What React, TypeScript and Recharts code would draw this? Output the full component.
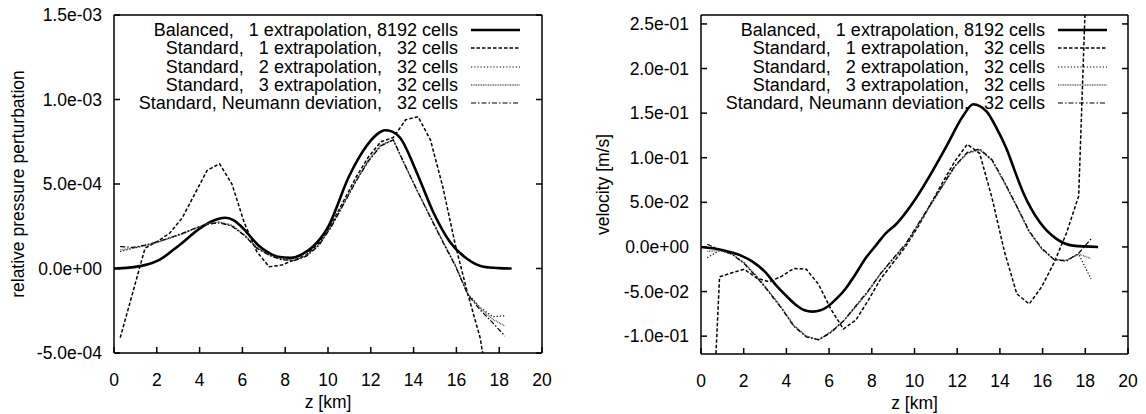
import { LineChart, Line, XAxis, YAxis } from 'recharts';

// cell centres of the 32-cell runs [km]
const Z32 = [0.29, 0.87, 1.45, 2.03, 2.61, 3.19, 3.77, 4.35, 4.93, 5.51, 6.09, 6.67, 7.25, 7.83, 8.41, 8.99,
  9.57, 10.15, 10.73, 11.31, 11.89, 12.47, 13.05, 13.63, 14.21, 14.79, 15.37, 15.95, 16.53, 17.11, 17.69, 18.27];

// pressure perturbation, values in units of 1e-4
const P_BAL_Z = [0, 0.7, 1.43, 2.1, 3.05, 4.0, 4.5, 4.9, 5.2, 5.6, 5.97, 6.74, 7.2, 7.66, 8.28, 8.8, 9.3, 10.0,
  11.0, 11.8, 12.3, 12.66, 13.0, 13.36, 14.14, 14.92, 15.7, 16.48, 17.27, 18.0, 18.58];
const P_BAL = [0, 0.05, 0.2, 0.5, 1.38, 2.36, 2.75, 2.95, 3.0, 2.85, 2.46, 1.38, 0.95, 0.69, 0.63, 0.85, 1.3, 2.45,
  5.5, 7.25, 7.95, 8.18, 8.1, 7.75, 5.7, 3.33, 1.57, 0.59, 0.1, 0.02, 0];
const P_STD1 = [-4.1, -1.45, 1.2, 1.6, 2.1, 3.0, 4.4, 5.8, 6.2, 5.0, 2.7, 1.0, 0.1, 0.2, 0.5, 0.8, 1.5, 2.6,
  4.0, 5.4, 6.6, 7.5, 7.75, 8.8, 8.98, 7.6, 4.8, 1.4, -1.5, -4.1, -8.6, -12];
const P_STD2 = [1.0, 1.2, 1.35, 1.55, 1.8, 2.05, 2.35, 2.65, 2.75, 2.55, 2.0, 1.25, 0.8, 0.55, 0.48, 0.75, 1.4, 2.5,
  3.85, 5.2, 6.4, 7.3, 7.6, 6.0, 4.5, 3.05, 1.6, 0.2, -1.5, -2.3, -2.85, -2.8];
const P_STD3 = [1.1, 1.2, 1.35, 1.55, 1.8, 2.05, 2.35, 2.65, 2.75, 2.55, 2.0, 1.25, 0.8, 0.55, 0.48, 0.75, 1.4, 2.5,
  3.85, 5.2, 6.4, 7.3, 7.6, 6.0, 4.5, 3.05, 1.6, 0.2, -1.5, -2.35, -3.0, -3.4];
const P_NEU = [1.3, 1.25, 1.38, 1.58, 1.82, 2.08, 2.38, 2.62, 2.7, 2.5, 1.95, 1.2, 0.78, 0.52, 0.46, 0.72, 1.36, 2.45,
  3.8, 5.15, 6.35, 7.25, 7.62, 6.05, 4.5, 3.0, 1.55, 0.15, -1.55, -2.45, -3.2, -4.0];

// velocity [m/s]
const V_BAL_Z = [0, 0.7, 1.35, 1.9, 2.43, 3.0, 3.52, 4.0, 4.45, 4.85, 5.22, 5.6, 5.92, 6.35, 6.78, 7.25, 7.7, 8.2,
  8.64, 9.16, 9.94, 10.72, 11.5, 12.28, 12.75, 13.37, 13.85, 14.31, 14.7, 15.09, 15.87, 16.65, 17.43, 18.6];
const V_BAL = [0, -0.002, -0.0056, -0.01, -0.0167, -0.028, -0.043, -0.055, -0.065, -0.071, -0.0725, -0.071, -0.067,
  -0.058, -0.0465, -0.03, -0.013, 0.002, 0.015, 0.026, 0.05, 0.08, 0.113, 0.147, 0.16, 0.152, 0.133, 0.11, 0.085,
  0.061, 0.0276, 0.009, 0.0015, 0];
const V_STD1 = [-0.329, -0.0335, -0.029, -0.025, -0.035, -0.039, -0.033, -0.024, -0.025, -0.042, -0.07, -0.092,
  -0.082, -0.06, -0.036, -0.018, 0.0, 0.022, 0.047, 0.072, 0.096, 0.115, 0.105, 0.055, -0.005, -0.0525, -0.064,
  -0.045, -0.018, 0.015, 0.057, 0.46];
const V_STD2 = [-0.012, -0.004, -0.008, -0.018, -0.033, -0.05, -0.068, -0.088, -0.1, -0.104, -0.095, -0.083, -0.067,
  -0.05, -0.03, -0.014, 0.002, 0.024, 0.046, 0.068, 0.09, 0.105, 0.109, 0.097, 0.072, 0.045, 0.017, -0.002, -0.014,
  -0.015, -0.008, -0.036];
const V_STD3 = [-0.005, -0.004, -0.008, -0.018, -0.033, -0.05, -0.068, -0.088, -0.1, -0.104, -0.095, -0.083, -0.067,
  -0.05, -0.03, -0.014, 0.002, 0.024, 0.046, 0.068, 0.09, 0.105, 0.109, 0.097, 0.072, 0.045, 0.017, -0.002, -0.014,
  -0.015, -0.008, -0.013];
const V_NEU = [0.003, -0.003, -0.008, -0.019, -0.034, -0.051, -0.069, -0.089, -0.101, -0.104, -0.096, -0.083, -0.066,
  -0.049, -0.03, -0.013, 0.003, 0.025, 0.047, 0.069, 0.091, 0.106, 0.11, 0.098, 0.073, 0.046, 0.018, -0.001, -0.014,
  -0.016, -0.007, 0.009];

const X_TICKS = [0, 2, 4, 6, 8, 10, 12, 14, 16, 18, 20];
const P_TICKS = [-5e-4, 0, 5e-4, 1e-3, 1.5e-3];
const V_TICKS = [-0.1, -0.05, 0, 0.05, 0.1, 0.15, 0.2, 0.25];

const NAMES = [
  'Balanced,   1 extrapolation, 8192 cells',
  'Standard,   1 extrapolation,   32 cells',
  'Standard,   2 extrapolation,   32 cells',
  'Standard,   3 extrapolation,   32 cells',
  'Standard, Neumann deviation,   32 cells',
];

const STYLES = [
  { stroke: '#000', width: 2.6, dash: undefined as string | undefined },
  { stroke: '#000', width: 1.5, dash: '3.5 2' },
  { stroke: '#000', width: 1.2, dash: '1.2 2' },
  { stroke: '#666', width: 1.4, dash: '1 0.7' },
  { stroke: '#000', width: 1.2, dash: '5 2 1.5 2' },
];

const FS = 17.5;
const TICK = 6;
const TOP = 15;
const FRAME = { stroke: '#000', strokeWidth: 1.5 };

const sci = (v: number) => {
  if (v === 0) return '0.0e+00';
  const [m, e] = v.toExponential(1).split('e');
  const n = Number(e);
  return `${m}e${n < 0 ? '-' : '+'}${String(Math.abs(n)).padStart(2, '0')}`;
};

const rows = (zs: number[], vs: number[], k = 1) => zs.map((z, i) => ({ z, v: vs[i] * k }));

interface PanelProps {
  series: { z: number; v: number }[][];
  yDomain: [number, number];
  yTicks: number[];
  yLabel: string;
  plotLeft: number;
  plotRight: number;
  plotBottom: number;
  yLabelX: number;
  legendRight: number;
}

function Panel({ series, yDomain, yTicks, yLabel, plotLeft, plotRight, plotBottom, yLabelX, legendRight }: PanelProps) {
  const midY = (TOP + plotBottom) / 2;
  const midX = (plotLeft + plotRight) / 2;
  // gnuplot-style ticks pointing into the plot; positions come from the axis scale (payload.coordinate)
  const bottomTick = (p: any) => {
    const c = p.payload.coordinate;
    return (
      <g>
        <line x1={c} y1={plotBottom} x2={c} y2={plotBottom - TICK} {...FRAME} />
        <text x={c} y={plotBottom + 21} dy="0.71em" textAnchor="middle" fontSize={FS} fill="#000">
          {p.payload.value}
        </text>
      </g>
    );
  };
  const topTick = (p: any) => {
    const c = p.payload.coordinate;
    return <line x1={c} y1={TOP} x2={c} y2={TOP + TICK} {...FRAME} />;
  };
  const leftTick = (p: any) => {
    const c = p.payload.coordinate;
    return (
      <g>
        <line x1={plotLeft} y1={c} x2={plotLeft + TICK} y2={c} {...FRAME} />
        <text x={plotLeft - 12} y={c} dy="0.35em" textAnchor="end" fontSize={FS} fill="#000">
          {sci(p.payload.value)}
        </text>
      </g>
    );
  };
  const rightTick = (p: any) => {
    const c = p.payload.coordinate;
    return <line x1={plotRight} y1={c} x2={plotRight - TICK} y2={c} {...FRAME} />;
  };
  const xTitle = () => (
    <text x={midX} y={plotBottom + 49} dy="0.35em" textAnchor="middle" fontSize={FS} fill="#000">z [km]</text>
  );
  const yTitle = () => (
    <text x={yLabelX} y={midY} dy="0.35em" textAnchor="middle" fontSize={FS} fill="#000"
      transform={`rotate(-90, ${yLabelX}, ${midY})`}>{yLabel}</text>
  );

  return (
    <div style={{ position: 'relative', width: 573, height: 414 }}>
      <LineChart width={573} height={414}
        margin={{ top: TOP - 1, right: 573 - plotRight - 1, bottom: 414 - plotBottom - 40, left: 0 }}>
        <XAxis
          dataKey="z" type="number" domain={[0, 20]} ticks={X_TICKS} height={40}
          axisLine={FRAME} tickLine={false} tick={bottomTick} label={xTitle}
        />
        <XAxis xAxisId="top" orientation="top" type="number" domain={[0, 20]} ticks={X_TICKS} height={1}
          axisLine={FRAME} tickLine={false} tick={topTick} />
        <YAxis
          type="number" domain={yDomain} ticks={yTicks} allowDataOverflow width={plotLeft}
          axisLine={FRAME} tickLine={false} tick={leftTick} label={yTitle}
        />
        <YAxis yAxisId="r" orientation="right" type="number" domain={yDomain} ticks={yTicks} allowDataOverflow
          width={1} axisLine={FRAME} tickLine={false} tick={rightTick} />
        {series.map((d, i) => (
          <Line
            key={i} data={d} dataKey="v" type={i === 0 ? 'monotone' : 'linear'}
            stroke={STYLES[i].stroke} strokeWidth={STYLES[i].width} strokeDasharray={STYLES[i].dash}
            dot={false} isAnimationActive={false}
          />
        ))}
      </LineChart>
      <div style={{ position: 'absolute', top: 21, right: legendRight, fontSize: 18 }}>
        {NAMES.map((n, i) => (
          <div key={n} style={{ display: 'flex', alignItems: 'center', justifyContent: 'flex-end', height: 18.33 }}>
            <span style={{ whiteSpace: 'pre', lineHeight: '18.33px' }}>{n}</span>
            <svg width={49} height={8} style={{ marginLeft: 13 }}>
              <line x1={0} y1={4} x2={49} y2={4} stroke={STYLES[i].stroke} strokeWidth={STYLES[i].width}
                strokeDasharray={STYLES[i].dash} />
            </svg>
          </div>
        ))}
      </div>
    </div>
  );
}

export default function App() {
  const pressure = [
    rows(P_BAL_Z, P_BAL, 1e-4), rows(Z32, P_STD1, 1e-4), rows(Z32, P_STD2, 1e-4),
    rows(Z32, P_STD3, 1e-4), rows(Z32, P_NEU, 1e-4),
  ];
  const velocity = [
    rows(V_BAL_Z, V_BAL), rows(Z32, V_STD1), rows(Z32, V_STD2), rows(Z32, V_STD3), rows(Z32, V_NEU),
  ];
  return (
    <div style={{
      position: 'absolute', left: 0, top: 0, width: 1146, height: 414, background: '#fff', display: 'flex',
      fontFamily: '"Liberation Sans", Arial, sans-serif', color: '#000',
    }}>
      <Panel series={pressure} yDomain={[-5e-4, 1.5e-3]} yTicks={P_TICKS} yLabel="relative pressure perturbation"
        plotLeft={114} plotRight={542} plotBottom={353} yLabelX={18} legendRight={53} />
      <Panel series={velocity} yDomain={[-0.12, 0.26]} yTicks={V_TICKS} yLabel="velocity [m/s]"
        plotLeft={128} plotRight={555} plotBottom={354} yLabelX={30} legendRight={39} />
    </div>
  );
}
